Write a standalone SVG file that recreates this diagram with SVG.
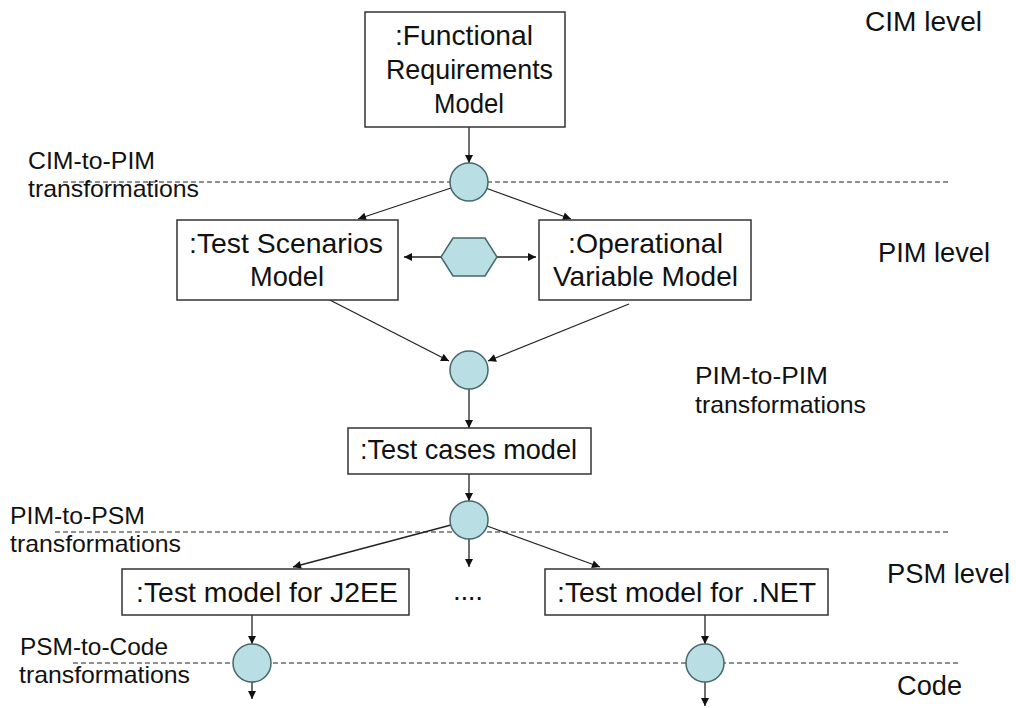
<svg xmlns="http://www.w3.org/2000/svg" width="1016" height="708" viewBox="0 0 1016 708">
  <style>
    .box { fill: #ffffff; stroke: #333333; stroke-width: 1.5; }
    .node { fill: #b9dfe4; stroke: #46676b; stroke-width: 1.5; }
    .t { font-family: "Liberation Sans", Arial, sans-serif; font-size: 28px; fill: #111111; }
    .lbl { font-family: "Liberation Sans", Arial, sans-serif; font-size: 24px; fill: #111111; }
    .lvl { font-family: "Liberation Sans", Arial, sans-serif; font-size: 27px; fill: #111111; }
    .dash { stroke: #222222; stroke-width: 1.1; stroke-dasharray: 5 3; fill: none; }
    .link { stroke: #222222; stroke-width: 1.3; fill: none; marker-end: url(#arrow); }
  </style>
  <defs>
    <marker id="arrow" viewBox="0 0 10 10" refX="10" refY="5" markerWidth="9" markerHeight="8" markerUnits="userSpaceOnUse" orient="auto">
      <path d="M0,0 L10,5 L0,10 z" fill="#111111"/>
    </marker>
  </defs>
  <rect width="1016" height="708" fill="#ffffff"/>

  <!-- level boundaries -->
  <g id="boundaries">
    <line class="dash" x1="63" y1="182" x2="950" y2="182"/>
    <line class="dash" x1="55" y1="532" x2="950" y2="532"/>
    <line class="dash" x1="73" y1="663" x2="960" y2="663"/>
  </g>

  <!-- level and transformation labels -->
  <g id="labels">
    <text class="lvl" x="865" y="31" textLength="117" lengthAdjust="spacingAndGlyphs">CIM level</text>
    <text class="lvl" x="878" y="262" textLength="112" lengthAdjust="spacingAndGlyphs">PIM level</text>
    <text class="lvl" x="887" y="583" textLength="123" lengthAdjust="spacingAndGlyphs">PSM level</text>
    <text class="lvl" x="897" y="695" textLength="65" lengthAdjust="spacingAndGlyphs">Code</text>
    <text class="lbl" x="28" y="169" textLength="127" lengthAdjust="spacingAndGlyphs">CIM-to-PIM</text>
    <text class="lbl" x="28" y="197" textLength="171" lengthAdjust="spacingAndGlyphs">transformations</text>
    <text class="lbl" x="695" y="384" textLength="133" lengthAdjust="spacingAndGlyphs">PIM-to-PIM</text>
    <text class="lbl" x="695" y="413" textLength="171" lengthAdjust="spacingAndGlyphs">transformations</text>
    <text class="lbl" x="10" y="524" textLength="135" lengthAdjust="spacingAndGlyphs">PIM-to-PSM</text>
    <text class="lbl" x="10" y="552" textLength="171" lengthAdjust="spacingAndGlyphs">transformations</text>
    <text class="lbl" x="20" y="655" textLength="148" lengthAdjust="spacingAndGlyphs">PSM-to-Code</text>
    <text class="lbl" x="19" y="683" textLength="171" lengthAdjust="spacingAndGlyphs">transformations</text>
  </g>

  <!-- connectors -->
  <g id="connectors">
    <line class="link" x1="469" y1="127" x2="469" y2="163"/>
    <line class="link" x1="451" y1="188" x2="358" y2="219"/>
    <line class="link" x1="487" y1="188.5" x2="571" y2="219"/>
    <line class="link" x1="441" y1="257" x2="404" y2="257"/>
    <line class="link" x1="497" y1="257" x2="536" y2="257"/>
    <line class="link" x1="322" y1="296" x2="449" y2="361"/>
    <line class="link" x1="629" y1="304" x2="488" y2="361"/>
    <line class="link" x1="469" y1="389" x2="469" y2="428"/>
    <line class="link" x1="469" y1="474" x2="469" y2="501"/>
    <line class="link" x1="451" y1="525" x2="293" y2="567"/>
    <line class="link" x1="469" y1="539" x2="469" y2="567"/>
    <line class="link" x1="487" y1="526" x2="600" y2="567"/>
    <line class="link" x1="252" y1="615" x2="252" y2="644"/>
    <line class="link" x1="252" y1="682" x2="252" y2="699"/>
    <line class="link" x1="705" y1="615" x2="705" y2="644"/>
    <line class="link" x1="705" y1="682" x2="705" y2="706"/>
  </g>

  <!-- models -->
  <g id="functional-requirements-model">
    <rect class="box" x="365" y="12" width="200" height="115"/>
    <text class="t" x="395" y="45" textLength="138" lengthAdjust="spacingAndGlyphs">:Functional</text>
    <text class="t" x="386" y="79" textLength="167" lengthAdjust="spacingAndGlyphs">Requirements</text>
    <text class="t" x="434" y="113" textLength="70" lengthAdjust="spacingAndGlyphs">Model</text>
  </g>
  <g id="test-scenarios-model">
    <rect class="box" x="177" y="220" width="221" height="80"/>
    <text class="t" x="189" y="253" textLength="194" lengthAdjust="spacingAndGlyphs">:Test Scenarios</text>
    <text class="t" x="250" y="286" textLength="74" lengthAdjust="spacingAndGlyphs">Model</text>
  </g>
  <g id="operational-variable-model">
    <rect class="box" x="539" y="220" width="212" height="80"/>
    <text class="t" x="568" y="253" textLength="155" lengthAdjust="spacingAndGlyphs">:Operational</text>
    <text class="t" x="553" y="286" textLength="185" lengthAdjust="spacingAndGlyphs">Variable Model</text>
  </g>
  <g id="test-cases-model">
    <rect class="box" x="348" y="428" width="243" height="46"/>
    <text class="t" x="360" y="459" textLength="217" lengthAdjust="spacingAndGlyphs">:Test cases model</text>
  </g>
  <g id="test-model-j2ee">
    <rect class="box" x="122" y="569" width="287" height="46"/>
    <text class="t" x="136" y="602" textLength="262" lengthAdjust="spacingAndGlyphs">:Test model for J2EE</text>
  </g>
  <g id="test-model-net">
    <rect class="box" x="545" y="569" width="283" height="46"/>
    <text class="t" x="557" y="602" textLength="259" lengthAdjust="spacingAndGlyphs">:Test model for .NET</text>
  </g>
  <g id="more-platforms">
    <text class="t" x="453" y="600" textLength="30" lengthAdjust="spacing">....</text>
  </g>

  <!-- transformations -->
  <g id="cim-to-pim">
    <circle class="node" cx="469" cy="182" r="19"/>
  </g>
  <g id="model-weaving">
    <polygon class="node" points="441,257 453,238 485,238 497,257 485,276 453,276"/>
  </g>
  <g id="pim-to-pim">
    <circle class="node" cx="469" cy="370" r="19"/>
  </g>
  <g id="pim-to-psm">
    <circle class="node" cx="469" cy="520" r="19"/>
  </g>
  <g id="psm-to-code-j2ee">
    <circle class="node" cx="252" cy="663" r="19"/>
  </g>
  <g id="psm-to-code-net">
    <circle class="node" cx="705" cy="663" r="19"/>
  </g>
</svg>
